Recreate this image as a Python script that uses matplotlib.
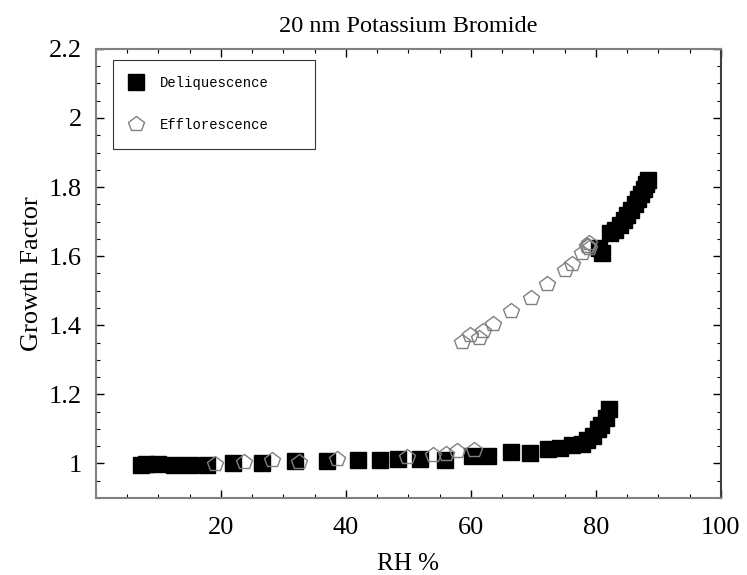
import matplotlib
matplotlib.use("Agg")
import matplotlib.pyplot as plt
from matplotlib.ticker import MultipleLocator

# deliquescence (black squares)
deliq_rh = [7.2, 8.0, 9.9, 12.5, 15.1, 17.8, 22.0, 26.5, 31.8, 36.9, 42.0, 45.4,
            48.4, 51.8, 55.8, 60.1, 62.8, 66.4, 69.5, 72.4, 74.2, 76.1, 77.7,
            78.6, 79.6, 80.4, 80.8, 81.6, 82.1,
            80.5, 81.0, 82.2, 83.0, 83.8, 84.5, 85.0, 85.6, 86.2, 86.7, 87.2,
            87.7, 88.1, 88.4]
deliq_gf = [0.995, 0.997, 0.998, 0.994, 0.994, 0.995, 1.000, 1.000, 1.006, 1.006, 1.010, 1.010,
            1.013, 1.013, 1.011, 1.021, 1.022, 1.033, 1.030, 1.043, 1.046, 1.052, 1.057,
            1.069, 1.079, 1.100, 1.112, 1.132, 1.158,
            1.625, 1.610, 1.667, 1.675, 1.690, 1.705, 1.720, 1.735, 1.750, 1.765, 1.780,
            1.795, 1.810, 1.820]

# efflorescence (open pentagons)
efflo_rh = [19.0, 23.7, 28.1, 32.5, 38.5, 49.8, 54.0, 56.0, 57.8, 60.5,
            58.6, 59.9, 61.3, 62.0, 63.6, 66.4, 69.6, 72.1, 75.0, 76.1,
            77.7, 78.5, 78.7, 78.9, 78.9]
efflo_gf = [0.999, 1.004, 1.009, 1.004, 1.014, 1.018, 1.025, 1.028, 1.036, 1.040,
            1.352, 1.371, 1.364, 1.383, 1.405, 1.441, 1.480, 1.518, 1.561, 1.577,
            1.608, 1.629, 1.630, 1.637, 1.623]

serif = ['Liberation Serif', 'DejaVu Serif']

fig = plt.figure(figsize=(7.47, 5.75), dpi=100)
ax = fig.add_axes([0.1285, 0.134, 0.8365, 0.781])

ax.plot(deliq_rh, deliq_gf, ls='none', marker='s', ms=11.5, color='black',
        mec='black', label='Deliquescence', zorder=2)
ax.plot(efflo_rh, efflo_gf, ls='none', marker='p', ms=11.5, mfc='none',
        mec='#808080', mew=1.0, label='Efflorescence', zorder=3)

ax.set_xlim(0, 100)
ax.set_ylim(0.9, 2.2)
ax.xaxis.set_minor_locator(MultipleLocator(5))
ax.yaxis.set_minor_locator(MultipleLocator(0.05))
ax.set_xticks([20, 40, 60, 80, 100])
ax.set_xticklabels(['20', '40', '60', '80', '100'])
ax.set_yticks([1, 1.2, 1.4, 1.6, 1.8, 2, 2.2])
ax.set_yticklabels(['1', '1.2', '1.4', '1.6', '1.8', '2', '2.2'])

ax.tick_params(which='both', direction='in', top=True, right=True, color='black')
ax.tick_params(which='major', length=6, width=1, labelsize=19)
ax.tick_params(axis='x', which='major', pad=14)
ax.tick_params(axis='y', which='major', pad=10)
ax.tick_params(which='minor', length=3, width=0.8)
for lab in ax.get_xticklabels() + ax.get_yticklabels():
    lab.set_family(serif)

for s in ax.spines.values():
    s.set_color('#808080')
    s.set_linewidth(1.5)
ax.spines['right'].set_color('#404040')

ax.set_xlabel('RH %', fontsize=18, family=serif, labelpad=10)
ax.set_ylabel('Growth Factor', fontsize=19, family=serif, labelpad=4)
ax.set_title('20 nm Potassium Bromide', fontsize=17.5, family=serif, pad=12)

leg = ax.legend(loc='upper left', bbox_to_anchor=(0.027, 0.771, 0.323, 0.205),
                mode='expand', frameon=True,
                fancybox=False, edgecolor='black', borderpad=1.2, labelspacing=2.0,
                handlelength=1.0, handletextpad=1.2, borderaxespad=0,
                prop={'family': 'Liberation Mono', 'size': 10})
leg.get_frame().set_linewidth(0.8)

fig.savefig('out.png', dpi=100)
